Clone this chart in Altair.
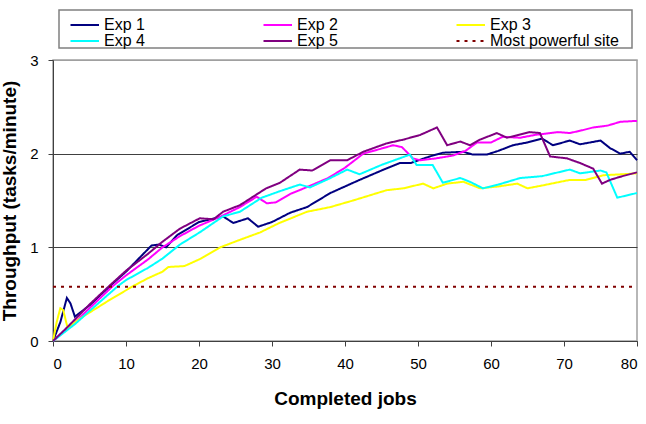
import altair as alt
import pandas as pd

series_names = ["Exp 1", "Exp 2", "Exp 3", "Exp 4", "Exp 5", "Most powerful site"]
series_colors = ["#000080", "#FF00FF", "#FFFF00", "#00FFFF", "#800080", "#800000"]
series_dashes = [[1, 0], [1, 0], [1, 0], [1, 0], [1, 0], [3, 5]]

exp1_x = [0, 1, 1.9, 2.4, 3, 5, 8, 10, 12, 13.5, 14.5, 15.5, 17, 20, 23.3, 24.7, 26.7, 28.1, 30, 32.5, 34.8, 38, 42, 45, 47.5, 49, 51.6, 53.4, 56.2, 57.5, 59.4, 61, 63, 65, 67, 68.5, 70.8, 72.2, 75, 76.3, 77.7, 79, 80]
exp1_y = [0, 0.2, 0.46, 0.4, 0.26, 0.38, 0.6, 0.74, 0.9, 1.02, 1.03, 1.0, 1.13, 1.27, 1.33, 1.26, 1.31, 1.22, 1.27, 1.37, 1.43, 1.58, 1.72, 1.82, 1.9, 1.9, 1.97, 2.01, 2.02, 1.99, 1.99, 2.03, 2.09, 2.12, 2.16, 2.09, 2.14, 2.1, 2.14, 2.06, 2.0, 2.02, 1.93]

exp2_x = [0, 3, 5, 8.2, 10, 13, 15, 17.4, 20, 23, 25.6, 27.9, 29.3, 30.5, 32.5, 35, 37.7, 40, 42.5, 44.8, 46.6, 47.8, 49.3, 50.3, 52.5, 54.8, 56.5, 58.1, 60, 61.6, 64, 66, 69.2, 70.8, 72.5, 74, 76, 77.7, 80]
exp2_y = [0, 0.2, 0.35, 0.587, 0.7, 0.87, 1.0, 1.12, 1.23, 1.33, 1.43, 1.54, 1.47, 1.48, 1.57, 1.65, 1.74, 1.85, 2.0, 2.05, 2.09, 2.07, 1.95, 1.93, 1.95, 1.98, 2.03, 2.12, 2.12, 2.18, 2.17, 2.2, 2.23, 2.22, 2.25, 2.28, 2.3, 2.34, 2.35]

exp3_x = [0, 0.5, 1, 1.4, 2, 3, 4.1, 8, 11, 13, 15, 15.8, 18, 20, 22.9, 25.6, 28.4, 31, 34.8, 38, 41.1, 45.7, 48, 50.7, 52.1, 54, 56.2, 58.5, 61, 63.6, 65, 67, 70.8, 73, 75.4, 78, 80]
exp3_y = [0, 0.2, 0.35, 0.33, 0.14, 0.2, 0.26, 0.45, 0.587, 0.67, 0.74, 0.79, 0.8, 0.87, 1.0, 1.08, 1.16, 1.26, 1.38, 1.43, 1.5, 1.61, 1.63, 1.68, 1.63, 1.68, 1.7, 1.63, 1.65, 1.68, 1.63, 1.66, 1.72, 1.72, 1.77, 1.78, 1.79]

exp4_x = [0, 3, 5, 8.9, 10, 13, 15, 17.4, 20.1, 23.3, 25.6, 28.6, 31.1, 33.8, 35.2, 38, 40.3, 42, 45, 48.9, 49.8, 52, 53.4, 55.8, 57.1, 58.9, 61, 64, 67, 70.8, 72.2, 75, 75.8, 77.3, 80]
exp4_y = [0, 0.18, 0.32, 0.587, 0.65, 0.78, 0.88, 1.03, 1.16, 1.33, 1.38, 1.53, 1.6, 1.67, 1.64, 1.74, 1.83, 1.78, 1.88, 1.99, 1.88, 1.88, 1.69, 1.74, 1.7, 1.63, 1.67, 1.74, 1.76, 1.83, 1.79, 1.82, 1.8, 1.53, 1.58]

exp5_x = [0, 2, 5, 7.7, 10, 13, 15, 17.4, 20.1, 22, 23.3, 25.6, 27, 29.2, 31.1, 33.8, 35.5, 38, 40.3, 42.5, 45.7, 48, 50.3, 52.6, 54, 55.8, 57.1, 58.5, 60.8, 62.2, 65.3, 66.7, 68.1, 70.4, 72.2, 74, 75.2, 76.3, 78, 80]
exp5_y = [0, 0.15, 0.39, 0.587, 0.75, 0.93, 1.06, 1.2, 1.31, 1.3, 1.38, 1.45, 1.52, 1.63, 1.69, 1.83, 1.82, 1.93, 1.93, 2.02, 2.11, 2.15, 2.2, 2.28, 2.09, 2.13, 2.09, 2.15, 2.22, 2.17, 2.23, 2.22, 1.97, 1.95, 1.9, 1.84, 1.68, 1.72, 1.76, 1.8]

site_x = [0, 79.5]
site_y = [0.58, 0.58]

x_ticks = [0, 10, 20, 30, 40, 50, 60, 70, 80]
y_ticks = [0, 1, 2, 3]

rows = []
for name, xs, ys in [
    ("Exp 1", exp1_x, exp1_y),
    ("Exp 2", exp2_x, exp2_y),
    ("Exp 3", exp3_x, exp3_y),
    ("Exp 4", exp4_x, exp4_y),
    ("Exp 5", exp5_x, exp5_y),
    ("Most powerful site", site_x, site_y),
]:
    for x, y in zip(xs, ys):
        rows.append({"series": name, "jobs": x, "tput": y})
df = pd.DataFrame(rows)

FONT = "Liberation Sans"

legend = alt.Legend(
    title=None, orient="none", direction="horizontal", legendX=35, legendY=-43, columns=3,
    columnPadding=114, rowPadding=-5, padding=0,
    symbolType="M-8.5,0L1,0", symbolSize=36, symbolStrokeWidth=2,
    labelFont=FONT, labelFontSize=16, labelColor="black", labelOffset=0,
)

lines = alt.Chart(df).mark_line(strokeWidth=2).encode(
    x=alt.X("jobs:Q", scale=alt.Scale(domain=[0, 80], nice=False),
            axis=alt.Axis(values=x_ticks, title="Completed jobs", grid=False,
                          domainColor="#404040", tickColor="#404040", tickSize=5,
                          labelFont=FONT, labelFontSize=15, labelColor="black",
                          labelPadding=10, titleFont=FONT, titleFontSize=19,
                          titleFontWeight="bold", titleColor="black", titlePadding=18)),
    y=alt.Y("tput:Q", scale=alt.Scale(domain=[0, 3], nice=False),
            axis=alt.Axis(values=y_ticks, title="Throughput (tasks/minute)", grid=True,
                          gridColor={"condition": {"test": "datum.value === 3", "value": "#a0a0a0"}, "value": "#404040"},
                          gridWidth=1,
                          domainColor="#404040", tickColor="#404040", tickSize=5,
                          labelFont=FONT, labelFontSize=15, labelColor="black",
                          labelPadding=10, titleFont=FONT, titleFontSize=19,
                          titleFontWeight="bold", titleColor="black", titlePadding=10)),
    color=alt.Color("series:N", scale=alt.Scale(domain=series_names, range=series_colors), legend=legend),
    strokeDash=alt.StrokeDash("series:N", scale=alt.Scale(domain=series_names, range=series_dashes), legend=legend),
)

frame = alt.Chart(alt.Data(values=[{"k": 1}])).mark_rect(
    filled=False, stroke="#808080", strokeWidth=1.5
).encode(x=alt.value(6), x2=alt.value(579), y=alt.value(-50), y2=alt.value(-12))

chart = alt.layer(frame, lines).properties(
    width=584, height=281,
    autosize=alt.AutoSizeParams(type="none"),
    padding={"left": 53, "top": 60, "right": 9, "bottom": 83},
    background="white",
).configure_view(stroke="#a0a0a0", strokeWidth=1.5)

chart.save("out.html", embed_options={"renderer": "svg", "actions": False})
